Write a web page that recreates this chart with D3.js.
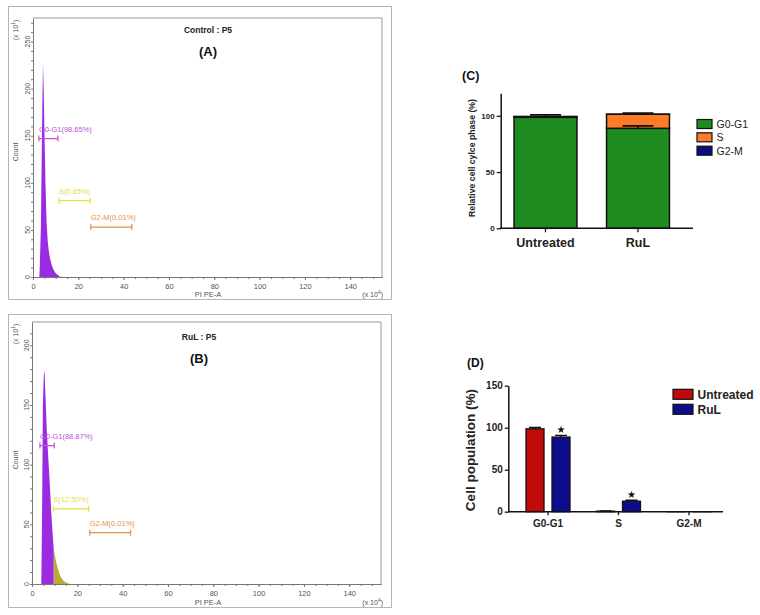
<!DOCTYPE html>
<html><head><meta charset="utf-8">
<script src="https://cdn.jsdelivr.net/npm/d3@7"></script>
<style>body{margin:0;background:#fff} svg{display:block;font-family:"Liberation Sans",Arial,sans-serif}</style>
</head><body><svg id="c" width="760" height="615"></svg>
<script>
// ---------- DATA ----------
// Histogram (A) Control: [PI PE-A (x10^4), Count (x10^1)]
const histA_G1 = [[2.8,0],[3.0,12],[3.5,55],[4.0,160],[4.4,228],[4.8,190],[5.0,160],[5.5,100],[6.0,58],[6.5,38],[7.0,27],[7.5,20],[8.0,15],[8.5,11],[9.0,8],[9.5,6],[10.0,4],[10.5,3],[11.0,2],[11.5,1.2]];
const histA_S  = [[11.5,1.2],[12.0,0.8],[12.5,0.4],[13.0,0]];
// Histogram (B) RuL
const histB_G1 = [[4.1,0],[4.2,15],[4.5,70],[4.8,150],[5.2,175],[5.5,179],[6.0,155],[6.5,130],[7.0,112],[7.5,95],[8.0,78],[8.5,60],[9.0,45],[9.6,29]];
const histB_S  = [[9.6,29],[10.0,25],[10.5,20],[11.0,16],[11.5,12.5],[12.0,9.5],[12.5,7],[13.0,5],[13.5,3.5],[14.0,2.5],[15.0,1.2],[16.0,0.5],[17.0,0]];
// Gates
const gateNames = ["G0-G1","S","G2-M"];
const gatePctA = ["98.65%","0.65%","0.01%"];
const gatePctB = ["88.87%","12.50%","0.01%"];
const gateRangeA = [[2.6,11.0],[11.5,25.2],[25.5,43.6]];
const gateLevelA = [147,81,53];
const gateRangeB = [[3.5,9.8],[9.4,25.0],[25.5,43.5]];
const gateLevelB = [116,63,43];
const histXTicks = [0,20,40,60,80,100,120,140];
const histYTicksA = [0,50,100,150,200,250];
const histYTicksB = [0,50,100,150,200];

// Panels C & D
const phases = ["G0-G1","S","G2-M"];
const groups = ["Untreated","RuL"];
const valUntreated = [98.65, 0.65, 0.01];
const valRuL = [88.87, 12.50, 0.01];
const errStackUntreated = [0.5, 1.5, 0];
const errStackRuL = [2.2, 1.0, 0];
const errPopUntreated = [1.5, 0.3, 0];
const errPopRuL = [2.0, 1.2, 0];
const starRuL = [true, true, false];
const yTicksC = [0,50,100];
const yTicksD = [0,50,100,150];

// ---------- DRAW ----------
const svg = d3.select("#c");
const purple = "#9a2be0";
const gateColors = ["#c24fd6","#e6e03a","#e0924a"];

function histPanel(cfg){
  const g = svg.append("g");
  const x = d3.scaleLinear().domain([0,154]).range([cfg.left,cfg.right]);
  const y = d3.scaleLinear().domain([0,cfg.ymax]).range([cfg.bottom,cfg.top]);
  g.append("rect").attr("x",8.5).attr("y",cfg.boxTop+0.5).attr("width",383).attr("height",cfg.boxH)
    .attr("fill","none").attr("stroke","#b5b5b5");
  g.append("path").attr("d",`M${cfg.left},${cfg.top}H${cfg.right}V${cfg.bottom}`)
    .attr("fill","none").attr("stroke","#999").attr("stroke-width",1);
  const area = d3.area().x(d=>x(d[0])).y0(y(0)).y1(d=>y(d[1]));
  g.append("path").datum(cfg.g1).attr("d",area).attr("fill",purple);
  g.append("path").datum(cfg.s).attr("d",area).attr("fill",cfg.sColor);
  const styleAx = s=>{s.select(".domain").attr("stroke","#777");s.selectAll("line").attr("stroke","#777");};
  g.append("g").attr("transform",`translate(0,${cfg.bottom})`)
    .call(d3.axisBottom(x).tickValues(d3.range(0,155,5)).tickSize(2).tickSizeOuter(0).tickFormat(""))
    .call(styleAx);
  g.append("g").attr("transform",`translate(0,${cfg.bottom})`)
    .call(d3.axisBottom(x).tickValues(histXTicks).tickSize(3).tickSizeOuter(0).tickPadding(4))
    .call(styleAx)
    .call(s=>s.selectAll("text").attr("font-size",7.5).attr("fill","#555").attr("font-family","Liberation Sans, Arial"));
  g.append("g").attr("transform",`translate(${cfg.left},0)`)
    .call(d3.axisLeft(y).tickValues(d3.range(0,cfg.ymax,10)).tickSize(2).tickSizeOuter(0).tickFormat(""))
    .call(styleAx);
  g.selectAll(".yl").data(cfg.yTicks).join("text")
    .attr("transform",d=>`translate(${cfg.left-3.5},${y(d)}) rotate(-90)`)
    .attr("text-anchor","middle").attr("font-size",7).attr("fill","#555").text(d=>d);
  g.append("text").attr("transform",`translate(17.5,${cfg.countY}) rotate(-90)`).attr("text-anchor","middle")
    .attr("font-size",7).attr("fill","#555").text("Count");
  const sc = g.append("text").attr("transform",`translate(17.5,${cfg.scaleY}) rotate(-90)`).attr("text-anchor","middle")
    .attr("font-size",7).attr("fill","#555");
  sc.append("tspan").text("(x 10");
  sc.append("tspan").attr("font-size",5).attr("dy",-3).text("1");
  sc.append("tspan").attr("dy",3).text(")");
  g.append("text").attr("x",208).attr("y",cfg.xlabY).attr("text-anchor","middle").attr("font-size",7.5).attr("fill","#555").text("PI PE-A");
  const sx = g.append("text").attr("x",383).attr("y",cfg.xlabY).attr("text-anchor","end").attr("font-size",7).attr("fill","#555");
  sx.append("tspan").text("(x 10");
  sx.append("tspan").attr("font-size",5).attr("dy",-3).text("4");
  sx.append("tspan").attr("dy",3).text(")");
  g.append("text").attr("x",cfg.titleX).attr("y",cfg.titleY).attr("text-anchor","middle").attr("font-size",8.5)
    .attr("font-weight","bold").attr("fill","#222").text(cfg.title);
  g.append("text").attr("x",cfg.titleX).attr("y",cfg.titleY+22.5).attr("text-anchor","middle").attr("font-size",13)
    .attr("font-weight","bold").attr("fill","#111").text(cfg.letter);
  gateNames.forEach((n,i)=>{
    const [a,b] = cfg.gateRange[i], yy = y(cfg.gateLevel[i]), c = gateColors[i];
    g.append("path").attr("d",`M${x(a)},${yy}H${x(b)}M${x(a)},${yy-3}V${yy+3}M${x(b)},${yy-3}V${yy+3}`)
      .attr("stroke",c).attr("stroke-width",1.2).attr("fill","none");
    g.append("text").attr("x",x(a)).attr("y",yy-7).attr("font-size",7.5).attr("fill",c)
      .text(`${n}(${cfg.gatePct[i]})`);
  });
}

histPanel({left:33,right:382,top:18,bottom:277,ymax:275,boxTop:6,boxH:293,
  g1:histA_G1,s:histA_S,sColor:"#d8d040",yTicks:histYTicksA,countY:152,scaleY:30,xlabY:297,
  title:"Control : P5",letter:"(A)",titleX:208,titleY:33,
  gateRange:gateRangeA,gateLevel:gateLevelA,gatePct:gatePctA});
histPanel({left:32,right:381,top:322,bottom:584,ymax:219.5,boxTop:314,boxH:293,
  g1:histB_G1,s:histB_S,sColor:"#b8ae34",yTicks:histYTicksB,countY:460,scaleY:334,xlabY:605,
  title:"RuL : P5",letter:"(B)",titleX:199,titleY:340,
  gateRange:gateRangeB,gateLevel:gateLevelB,gatePct:gatePctB});

// ---------- Panel C ----------
const phaseColors = ["#1f8c1f","#ff7b25","#0b0b80"];
const gc = svg.append("g");
const yC = d3.scaleLinear().domain([0,120]).range([228.3,93.3]);
const xC = d3.scaleBand().domain(groups).range([499.25,684.25]).paddingInner(0.32).paddingOuter(0.16);
const rowsC = groups.map((gname,j)=>{
  const vals = j===0?valUntreated:valRuL;
  const o = {group:gname}; phases.forEach((p,i)=>o[p]=vals[i]); return o;});
const stackC = d3.stack().keys(phases)(rowsC);
gc.selectAll(".ser").data(stackC).join("g").attr("fill",(d,i)=>phaseColors[i])
  .selectAll("rect").data(d=>d).join("rect")
  .attr("x",d=>xC(d.data.group)).attr("width",xC.bandwidth())
  .attr("y",d=>yC(d[1])).attr("height",d=>yC(d[0])-yC(d[1]))
  .attr("stroke","#111").attr("stroke-width",1.5);
stackC.forEach((ser,i)=>{
  ser.forEach((d,j)=>{
    const e = (j===0?errStackUntreated:errStackRuL)[i];
    if(!e) return;
    const cx = xC(d.data.group)+xC.bandwidth()/2, y1 = yC(d[1]), y2 = yC(d[1]+e);
    gc.append("path").attr("d",`M${cx},${y1}V${y2}M${cx-15.5},${y2}H${cx+15.5}`)
      .attr("stroke","#111").attr("stroke-width",1.6).attr("fill","none");
  });
});
gc.append("g").attr("transform","translate(500.7,0)")
  .call(d3.axisLeft(yC).tickValues(yTicksC).tickSize(4).tickSizeOuter(0).tickPadding(2))
  .call(s=>{s.select(".domain").attr("stroke","#111").attr("stroke-width",1.5);
    s.selectAll("line").attr("stroke","#111").attr("stroke-width",1.3);
    s.selectAll("text").attr("font-size",8).attr("font-weight","bold").attr("fill","#222").attr("font-family","Liberation Sans, Arial");});
gc.append("line").attr("x1",500).attr("x2",693).attr("y1",228.3).attr("y2",228.3).attr("stroke","#111").attr("stroke-width",1.5);
gc.append("g").attr("transform","translate(0,228.3)")
  .call(d3.axisBottom(xC).tickSize(4).tickSizeOuter(0).tickPadding(6))
  .call(s=>{s.select(".domain").remove();
    s.selectAll("line").attr("stroke","#111").attr("stroke-width",1.3);
    s.selectAll("text").attr("font-size",12.5).attr("font-weight","bold").attr("fill","#222").attr("font-family","Liberation Sans, Arial");});
gc.append("text").attr("transform","translate(474.5,158) rotate(-90)").attr("text-anchor","middle")
  .attr("font-size",8.7).attr("font-weight","bold").attr("fill","#222").text("Relative cell cylce phase (%)");
gc.append("text").attr("x",462).attr("y",80).attr("font-size",12.5).attr("font-weight","bold").attr("fill","#111").text("(C)");
const legCy = [124,137.3,150.7];
phases.forEach((p,i)=>{
  gc.append("rect").attr("x",697).attr("y",legCy[i]-4.5).attr("width",15).attr("height",9)
    .attr("fill",phaseColors[i]).attr("stroke","#111").attr("stroke-width",1.2);
  gc.append("text").attr("x",716.5).attr("y",legCy[i]+3.8).attr("font-size",10.5).attr("fill","#222").text(p);
});

// ---------- Panel D ----------
const groupColors = ["#c20a0a","#0c0c8c"];
const gd = svg.append("g");
const yD = d3.scaleLinear().domain([0,150]).range([511.7,385.7]);
const x0D = d3.scaleBand().domain(phases).range([512.75,724.25]);
const x1D = d3.scaleBand().domain(groups).range([13.25,57.25]).paddingInner(0.3077);
const rowsD = [];
phases.forEach((p,i)=>groups.forEach((gname,j)=>{
  rowsD.push({phase:p,group:gname,v:(j===0?valUntreated:valRuL)[i],e:(j===0?errPopUntreated:errPopRuL)[i],
    star:j===1&&starRuL[i],color:groupColors[j]});
}));
gd.selectAll("rect.bar").data(rowsD).join("rect").attr("class","bar")
  .attr("x",d=>x0D(d.phase)+x1D(d.group)).attr("width",x1D.bandwidth())
  .attr("y",d=>yD(d.v)).attr("height",d=>yD(0)-yD(d.v))
  .attr("fill",d=>d.color).attr("stroke","#111").attr("stroke-width",1.3);
rowsD.forEach(d=>{
  const cx = x0D(d.phase)+x1D(d.group)+x1D.bandwidth()/2;
  if(d.e){
    const y1=yD(d.v), y2=yD(d.v+d.e);
    gd.append("path").attr("d",`M${cx},${y1}V${y2}M${cx-6},${y2}H${cx+6}`).attr("stroke","#111").attr("stroke-width",1.4).attr("fill","none");
  }
  if(d.star){
    gd.append("text").attr("x",cx).attr("y",yD(d.v+d.e)-2.5).attr("text-anchor","middle").attr("font-size",10)
      .attr("font-family","DejaVu Sans").attr("fill","#111").text("★");
  }
});
gd.append("g").attr("transform","translate(508.3,0)")
  .call(d3.axisLeft(yD).tickValues(yTicksD).tickSize(3.5).tickSizeOuter(0).tickPadding(2))
  .call(s=>{s.select(".domain").attr("stroke","#111").attr("stroke-width",1.5);
    s.selectAll("line").attr("stroke","#111").attr("stroke-width",1.3);
    s.selectAll("text").attr("font-size",10).attr("font-weight","bold").attr("fill","#222").attr("font-family","Liberation Sans, Arial");});
gd.append("line").attr("x1",508).attr("x2",723).attr("y1",511.7).attr("y2",511.7).attr("stroke","#111").attr("stroke-width",1.5);
gd.append("g").attr("transform","translate(0,511.7)")
  .call(d3.axisBottom(x0D).tickSize(3.5).tickSizeOuter(0).tickPadding(5))
  .call(s=>{s.select(".domain").remove();
    s.selectAll("line").attr("stroke","#111").attr("stroke-width",1.3);
    s.selectAll("text").attr("font-size",10).attr("font-weight","bold").attr("fill","#222").attr("font-family","Liberation Sans, Arial");});
gd.append("text").attr("transform","translate(475,450) rotate(-90)").attr("text-anchor","middle")
  .attr("font-size",13.5).attr("font-weight","bold").attr("fill","#222").text("Cell population (%)");
gd.append("text").attr("x",467).attr("y",366.5).attr("font-size",12).attr("font-weight","bold").attr("fill","#111").text("(D)");
const legDy = [394.3,409.3];
groups.forEach((gname,j)=>{
  gd.append("rect").attr("x",673).attr("y",legDy[j]-5).attr("width",20).attr("height",10)
    .attr("fill",groupColors[j]).attr("stroke","#111").attr("stroke-width",1.2);
  gd.append("text").attr("x",697.5).attr("y",legDy[j]+4.3).attr("font-size",12).attr("font-weight","bold").attr("fill","#222").text(gname);
});
</script></body></html>
